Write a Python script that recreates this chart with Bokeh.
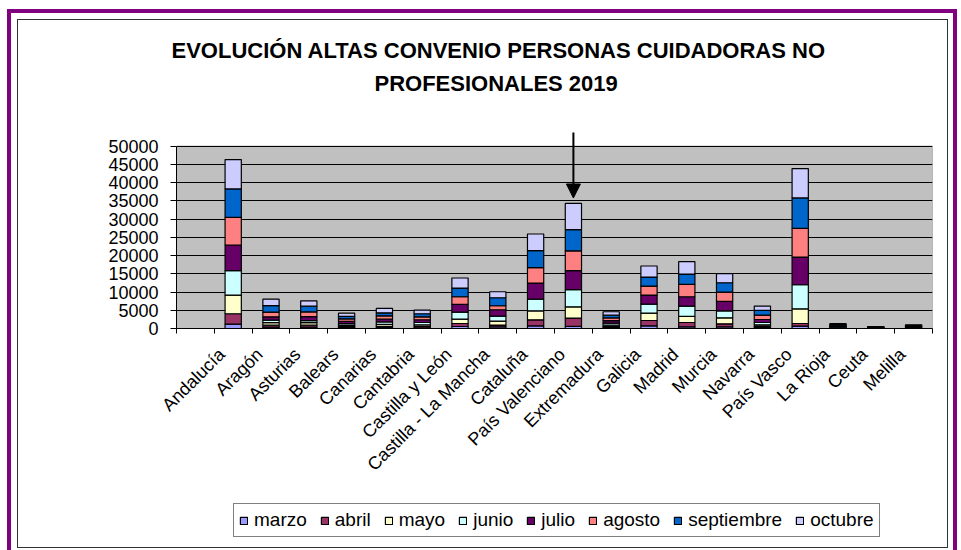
import math
from bokeh.plotting import figure
from bokeh.layouts import column
from bokeh.models import (Range1d, FixedTicker, Arrow, NormalHead, Title, InlineStyleSheet,
                          Legend, LegendItem, ColumnDataSource, NumeralTickFormatter)
from bokeh.embed import file_html
from bokeh.resources import INLINE

regions = ["Andalucía", "Aragón", "Asturias", "Balears", "Canarias", "Cantabria",
           "Castilla y León", "Castilla - La Mancha", "Cataluña", "País Valenciano",
           "Extremadura", "Galicia", "Madrid", "Murcia", "Navarra", "País Vasco",
           "La Rioja", "Ceuta", "Melilla"]
months = ["marzo", "abril", "mayo", "junio", "julio", "agosto", "septiembre", "octubre"]

marzo      = [1200, 400, 400, 200, 250, 200, 550, 430, 740, 600, 200, 740, 470, 470, 240, 660, 100, 40, 80]
abril      = [2840, 500, 500, 300, 350, 350, 820, 500, 1650, 2250, 300, 1460, 1180, 820, 330, 710, 120, 50, 90]
mayo       = [5140, 700, 730, 350, 550, 450, 1210, 1100, 2470, 3100, 400, 2030, 1650, 1650, 450, 4040, 150, 60, 110]
junio      = [6670, 700, 550, 500, 650, 650, 1920, 1370, 3220, 4700, 550, 2470, 2850, 1920, 630, 6590, 170, 70, 120]
julio      = [7050, 900, 1100, 600, 800, 750, 2100, 1740, 4390, 5200, 700, 2480, 2560, 2560, 820, 7600, 180, 80, 140]
agosto     = [7600, 1300, 1280, 700, 850, 800, 2110, 1100, 4210, 5450, 750, 2470, 3380, 2580, 1210, 7870, 200, 80, 150]
septiembre = [7800, 1800, 1560, 700, 850, 850, 2390, 2190, 4670, 5800, 750, 2470, 2850, 2550, 1270, 8350, 200, 80, 150]
octubre    = [8050, 1750, 1470, 850, 1200, 1000, 2750, 1650, 4580, 7200, 940, 3020, 3380, 2480, 1200, 8050, 200, 90, 160]

colors = ["#9999FF", "#993366", "#FFFFCC", "#CCFFFF", "#660066", "#FF8080", "#0066CC", "#CCCCFF"]
y_ticks = list(range(0, 50001, 5000))
y_max = 50000
title_lines = ["EVOLUCIÓN ALTAS CONVENIO PERSONAS CUIDADORAS NO", "PROFESIONALES  2019"]
highlight = "País Valenciano"

FONT = "Liberation Sans"

n_slots = len(regions) + 1
xs = [i + 1.5 for i in range(len(regions))]
series = [marzo, abril, mayo, junio, julio, agosto, septiembre, octubre]
data = dict(x=xs)
for m, s in zip(months, series):
    data[m] = s
src = ColumnDataSource(data)

# main chart: frame spans a little above the plot area so the arrow fits
p = figure(width=961, height=500, output_backend="svg", toolbar_location=None,
           x_range=Range1d(0, n_slots), y_range=Range1d(0, y_max * 1.0973),
           min_border_left=176, min_border_right=29, min_border_top=128, min_border_bottom=172)
p.background_fill_color = "white"
p.border_fill_color = "white"
p.outline_line_color = None

# grey plot area (0..50000)
p.quad(left=0, right=n_slots, bottom=0, top=y_max, fill_color="#C0C0C0",
       line_color="#808080", line_width=1, level="image")

renderers = p.vbar_stack(months, x="x", width=0.43, source=src,
                         fill_color=colors, line_color="black", line_width=1.2)

# axes (labels sit slightly left of the slot centre, as in the original)
label_pos = [x - 0.3 for x in xs]
p.xaxis.ticker = FixedTicker(ticks=label_pos, minor_ticks=list(range(0, n_slots + 1)))
p.xaxis.major_label_overrides = {x: r for x, r in zip(label_pos, regions)}
p.xaxis.major_tick_out = 0
p.xaxis.major_tick_in = 0
p.xaxis.minor_tick_out = 5
p.xaxis.minor_tick_in = 0
p.xaxis.minor_tick_line_color = "black"
p.xaxis.axis_line_color = "black"
p.xaxis.major_label_orientation = math.pi / 4
p.xaxis.major_label_standoff = 18
p.xaxis.major_label_text_font = FONT
p.xaxis.major_label_text_font_size = "18px"
p.xaxis.major_label_text_color = "black"

p.yaxis.ticker = FixedTicker(ticks=y_ticks, minor_ticks=[])
p.yaxis.formatter = NumeralTickFormatter(format="0")
p.yaxis.bounds = (0, y_max)
p.yaxis.major_tick_out = 6
p.yaxis.major_tick_in = 0
p.yaxis.major_tick_line_color = "black"
p.yaxis.axis_line_color = "black"
p.yaxis.major_label_standoff = 12
p.yaxis.major_label_text_font = FONT
p.yaxis.major_label_text_font_size = "18px"
p.yaxis.major_label_text_color = "black"

p.xgrid.grid_line_color = None
p.ygrid.ticker = FixedTicker(ticks=y_ticks)
p.ygrid.grid_line_color = "black"
p.ygrid.grid_line_width = 1

# title: spacer first (closest to the plot), then second line, then first line
p.add_layout(Title(text=" ", standoff=17, text_font=FONT, text_font_size="10px"), "above")
p.add_layout(Title(text=title_lines[1], align="left", offset=198, standoff=6,
                   text_font=FONT, text_font_size="22px", text_font_style="bold",
                   text_color="black"), "above")
p.add_layout(Title(text=title_lines[0], align="left", offset=-5, standoff=6,
                   text_font=FONT, text_font_size="22px", text_font_style="bold",
                   text_color="black"), "above")

# arrow pointing at the highlighted region
k = regions.index(highlight)
total = sum(s[k] for s in series)
p.add_layout(Arrow(x_start=xs[k], y_start=y_max * 1.076, x_end=xs[k], y_end=total + 1500,
                   line_color="black", line_width=2,
                   end=NormalHead(size=14, fill_color="black", line_color="black")))

# legend strip (frame is aligned with the main chart's frame by the column)
p2 = figure(width=961, height=50, output_backend="svg", toolbar_location=None,
            x_range=Range1d(0, n_slots), y_range=Range1d(0, 1), min_border=0,
            x_axis_type=None, y_axis_type=None)
p2.grid.visible = False
p2.outline_line_color = None
p2.background_fill_color = "white"
p2.border_fill_color = "white"
leg_r = p2.vbar_stack(months, x="x", width=0.43, source=src,
                      fill_color=colors, line_color="black", line_width=1.2)
for r in leg_r:
    r.visible = False
legend = Legend(items=[LegendItem(label=m, renderers=[r]) for m, r in zip(months, leg_r)],
                orientation="horizontal", location=(57, 13))
legend.label_text_font = FONT
legend.label_text_font_size = "19px"
legend.label_text_color = "black"
legend.glyph_width = 9
legend.glyph_height = 9
legend.label_standoff = 6
legend.spacing = 13
legend.padding = 5
legend.margin = 0
legend.border_line_color = "black"
legend.border_line_width = 1
legend.background_fill_color = "white"
legend.background_fill_alpha = 1
legend.inactive_fill_alpha = 0
p2.add_layout(legend)

layout = column(p, p2, spacing=0)

# decorative frames around the chart
layout.stylesheets = [InlineStyleSheet(css="""
:host { position: relative; }
:host::before { content: ""; position: absolute; left: 7px; top: 9px; width: 950px; height: 541px;
  border-left: 4px solid #800080; border-top: 4px solid #800080; border-right: 4px solid #800080;
  box-sizing: border-box; pointer-events: none; z-index: 10; }
:host::after { content: ""; position: absolute; left: 17px; top: 19px; width: 931px; height: 529px;
  border: 1.5px solid #333333; box-sizing: border-box; pointer-events: none; z-index: 10; }
""")]

open("out.html", "w").write(file_html(layout, INLINE))
